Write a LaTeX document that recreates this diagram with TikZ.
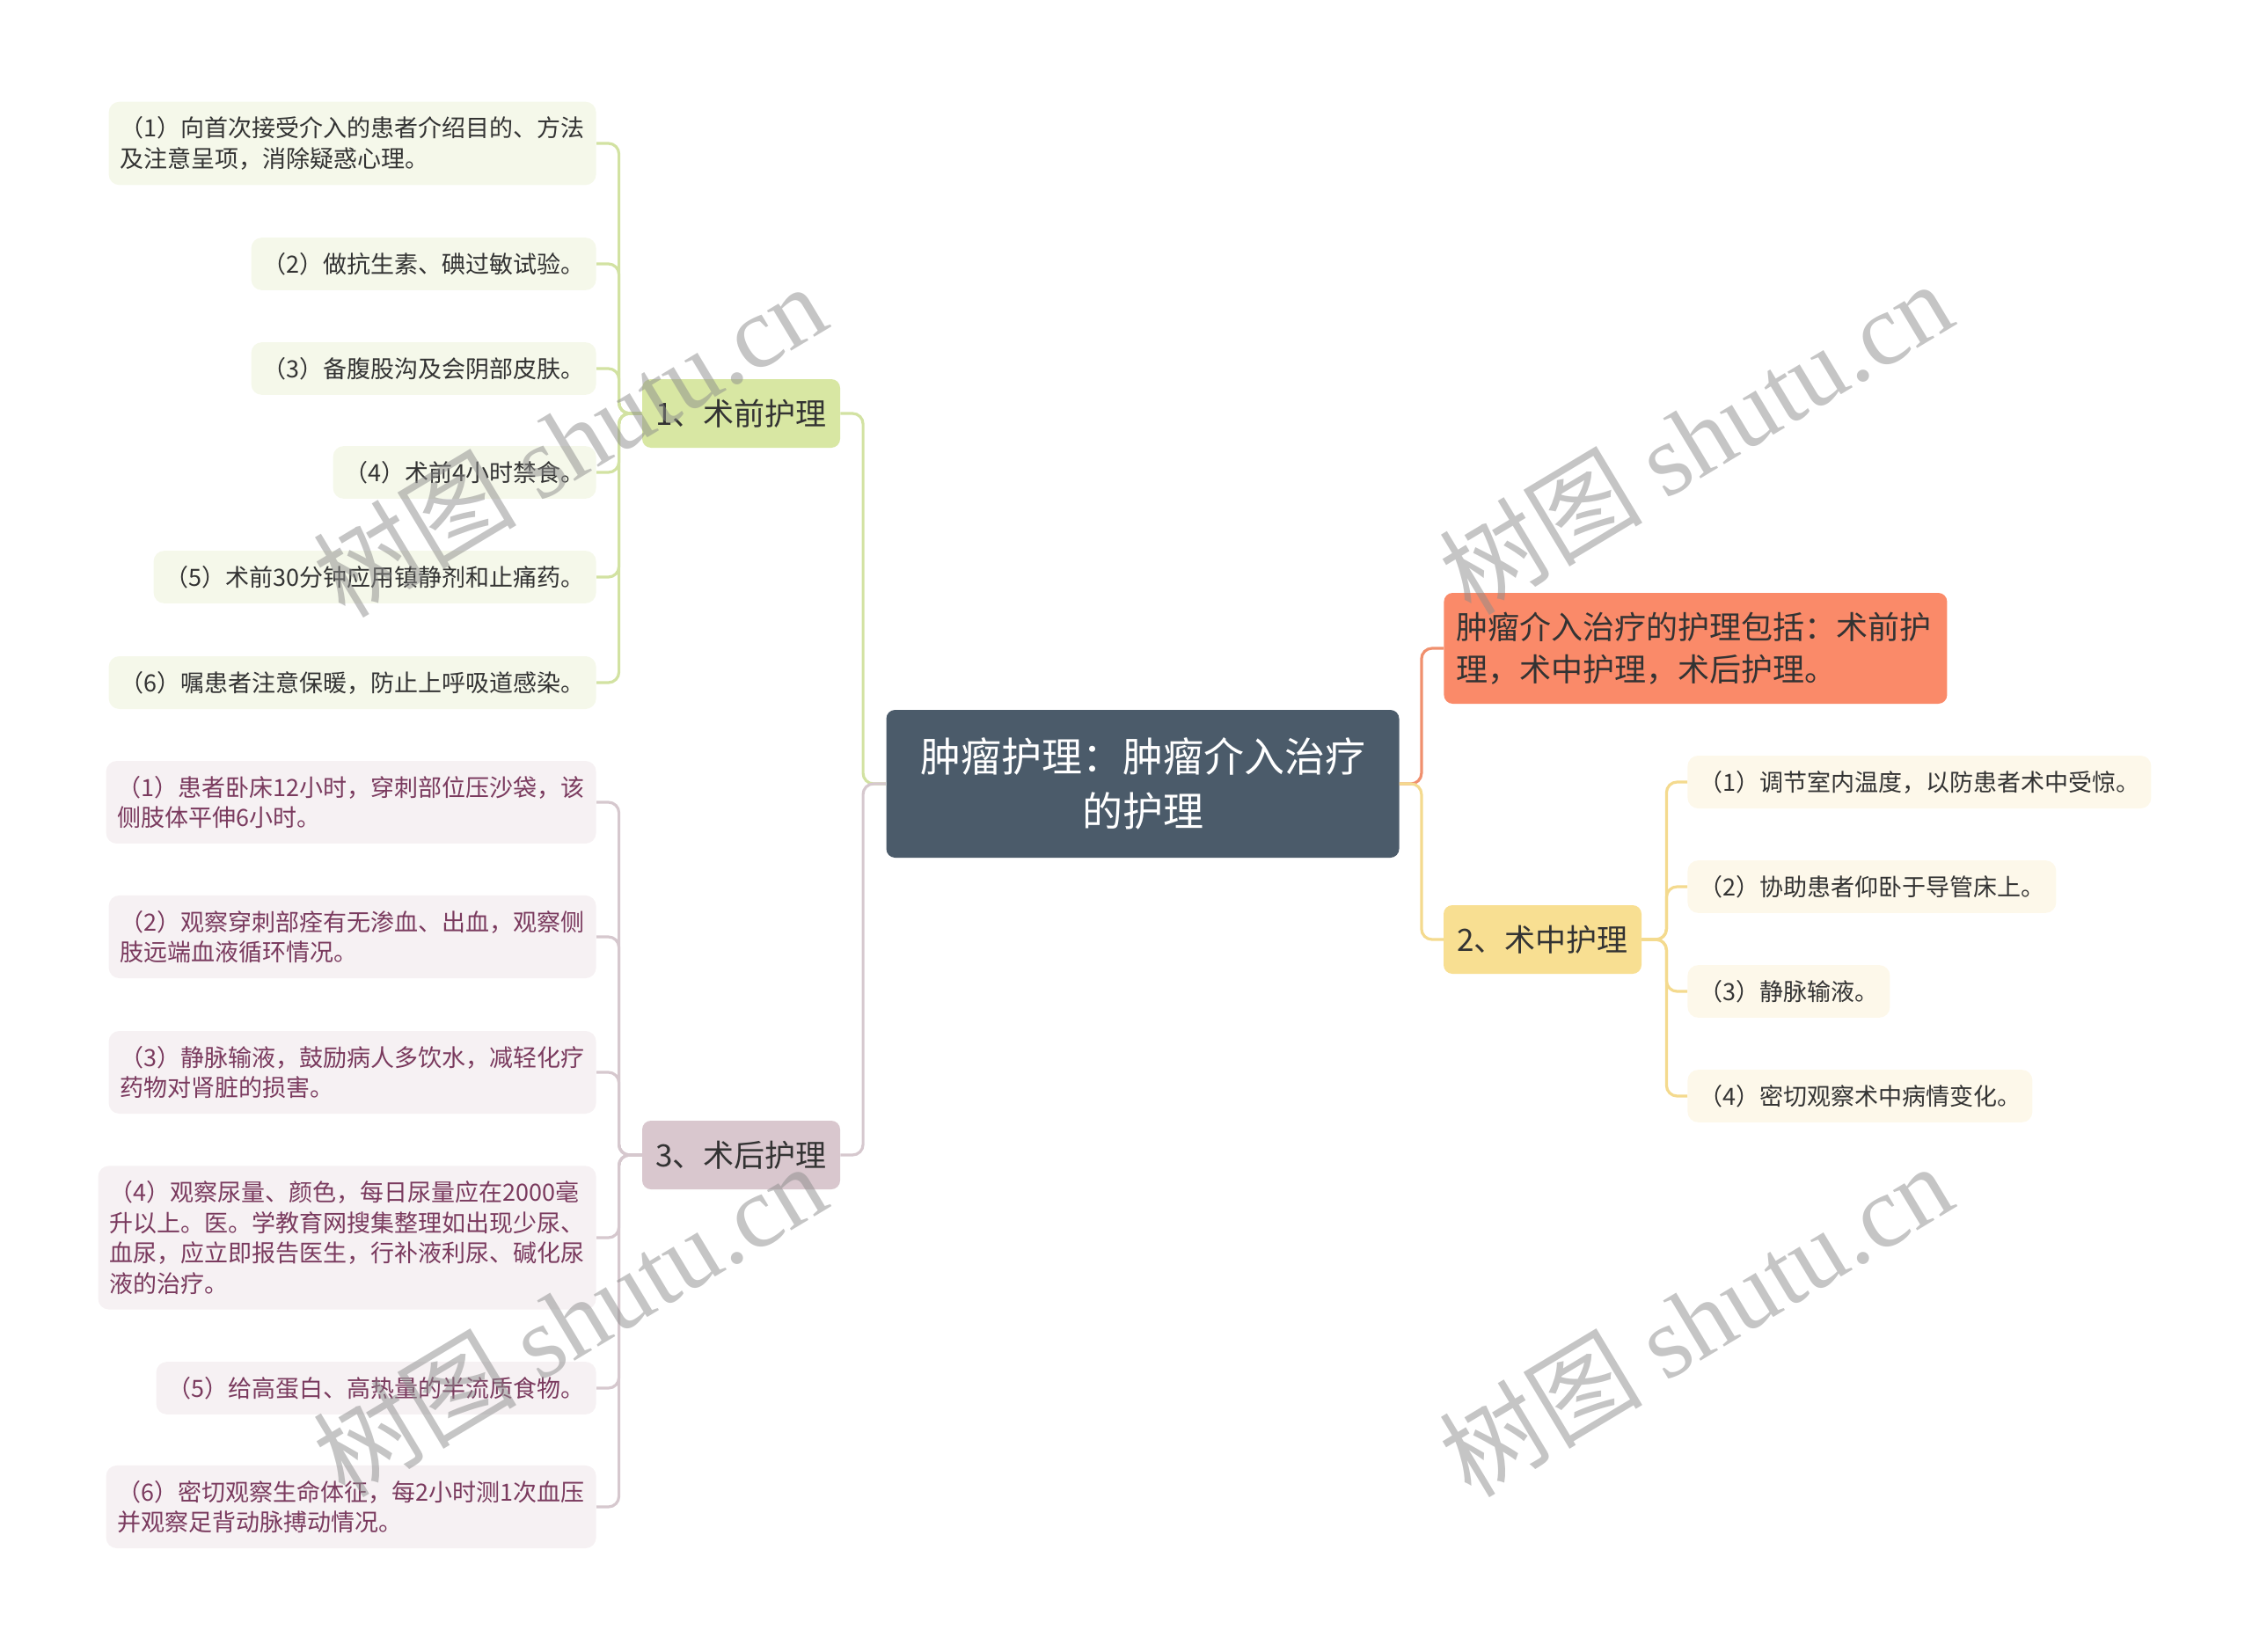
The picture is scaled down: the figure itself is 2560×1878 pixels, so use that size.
\documentclass[tikz,border=0pt]{standalone}
\usepackage{fontspec}
\setmainfont{Noto Sans CJK SC}
\newfontfamily\wmfont{Liberation Serif}
\definecolor{cCenter}{HTML}{4B5B6A}
\definecolor{cOrange}{HTML}{FA8A69}
\definecolor{lOrange}{HTML}{F0906E}
\definecolor{cYel}{HTML}{F8DF92}
\definecolor{lYel}{HTML}{F4DA8E}
\definecolor{yLeaf}{HTML}{FDF8EA}
\definecolor{cGreen}{HTML}{D8E7A3}
\definecolor{lGreen}{HTML}{D2E2A2}
\definecolor{gLeaf}{HTML}{F5F8EA}
\definecolor{cMauve}{HTML}{D9C7CE}
\definecolor{lMauve}{HTML}{D6C8CE}
\definecolor{mLeaf}{HTML}{F6F1F3}
\definecolor{txt}{HTML}{333333}
\definecolor{mTxt}{HTML}{7A3A5E}
\begin{document}
\begin{tikzpicture}[x=0.5pt,y=-0.5pt,
  leaf/.style={rounded corners=6pt, inner xsep=6.5pt, inner ysep=8.5pt, font=\fontsize{13.5}{17.3}\selectfont, align=left},
  leafA/.style={leaf, fill=gLeaf, text=txt, anchor=east},
  leafB/.style={leaf, fill=yLeaf, text=txt, anchor=west},
  leafC/.style={leaf, fill=mLeaf, text=mTxt, anchor=east},
  topic/.style={rounded corners=5pt, minimum width=112.5pt, minimum height=39pt, inner sep=0pt, font=\fontsize{17.5}{22}\selectfont, text=txt},
  conn/.style={line width=1.6pt, rounded corners=6pt},
  wm/.style={rotate=31, text=black!45, text opacity=0.5, font=\fontsize{58}{58}\selectfont},
]
\useasboundingbox (0,0) rectangle (2560,1878);

% central topic
\node[fill=cCenter, rounded corners=5pt, minimum width=291.5pt, minimum height=84pt, text width=262pt, align=center, inner sep=0pt, text=white, font=\fontsize{23}{31}\selectfont] (c) at (1299,891) {肿瘤护理：肿瘤介入治疗\\的护理};

% main topics
\node[fill=cOrange, rounded corners=5pt, anchor=west, minimum height=63pt, text width=272pt, inner xsep=7pt, inner ysep=0pt, align=left, text=txt, font=\fontsize{18}{24}\selectfont] (o) at (1641,737) {肿瘤介入治疗的护理包括：术前护\\理，术中护理，术后护理。};
\node[topic, fill=cGreen] (n1) at (842.5,470) {1、术前护理};
\node[topic, fill=cYel] (n2) at (1753.5,1068) {2、术中护理};
\node[topic, fill=cMauve] (n3) at (842.5,1313) {3、术后护理};

% leaves of 1
\node[leafA] (a1) at (678,163) {（1）向首次接受介入的患者介绍目的、方法\\及注意呈项，消除疑惑心理。};
\node[leafA] (a2) at (678,300) {（2）做抗生素、碘过敏试验。};
\node[leafA] (a3) at (678,419) {（3）备腹股沟及会阴部皮肤。};
\node[leafA] (a4) at (678,537) {（4）术前4小时禁食。};
\node[leafA] (a5) at (678,656) {（5）术前30分钟应用镇静剂和止痛药。};
\node[leafA] (a6) at (678,776) {（6）嘱患者注意保暖，防止上呼吸道感染。};

% leaves of 2
\node[leafB] (b1) at (1918,889) {（1）调节室内温度，以防患者术中受惊。};
\node[leafB] (b2) at (1918,1008) {（2）协助患者仰卧于导管床上。};
\node[leafB] (b3) at (1918,1127) {（3）静脉输液。};
\node[leafB] (b4) at (1918,1246) {（4）密切观察术中病情变化。};

% leaves of 3
\node[leafC] (d1) at (678,912) {（1）患者卧床12小时，穿刺部位压沙袋，该\\侧肢体平伸6小时。};
\node[leafC] (d2) at (678,1065) {（2）观察穿刺部痊有无渗血、出血，观察侧\\肢远端血液循环情况。};
\node[leafC] (d3) at (678,1219) {（3）静脉输液，鼓励病人多饮水，减轻化疗\\药物对肾脏的损害。};
\node[leafC] (d4) at (678,1407) {（4）观察尿量、颜色，每日尿量应在2000毫\\升以上。医。学教育网搜集整理如出现少尿、\\血尿，应立即报告医生，行补液利尿、碱化尿\\液的治疗。};
\node[leafC] (d5) at (678,1578) {（5）给高蛋白、高热量的半流质食物。};
\node[leafC] (d6) at (678,1713) {（6）密切观察生命体征，每2小时测1次血压\\并观察足背动脉搏动情况。};

% connectors from center
\draw[conn, lGreen] (c.west) -- ++(-26,0) |- (n1.east);
\draw[conn, lMauve] (c.west) -- ++(-26,0) |- (n3.east);
\draw[conn, lOrange] (c.east) -- ++(25,0) |- (o.west);
\draw[conn, lYel] (c.east) -- ++(25,0) |- (n2.east -| o.west);

% connectors to leaves
\foreach \l in {a1,a2,a3,a4,a5,a6}
  \draw[conn, lGreen] (n1.west) -- ++(-26,0) |- (\l.east);
\foreach \l in {b1,b2,b3,b4}
  \draw[conn, lYel] (n2.east) -- ++(28,0) |- (\l.west);
\foreach \l in {d1,d2,d3,d4,d5,d6}
  \draw[conn, lMauve] (n3.west) -- ++(-26,0) |- (\l.east);

% watermarks
\node[wm] (w1) at (647,500) {树图 {\wmfont shutu.cn}};
\node[wm] (w2) at (1927,497) {树图 {\wmfont shutu.cn}};
\node[wm] (w3) at (647,1500) {树图 {\wmfont shutu.cn}};
\node[wm] (w4) at (1927,1500) {树图 {\wmfont shutu.cn}};
\end{tikzpicture}
\end{document}
